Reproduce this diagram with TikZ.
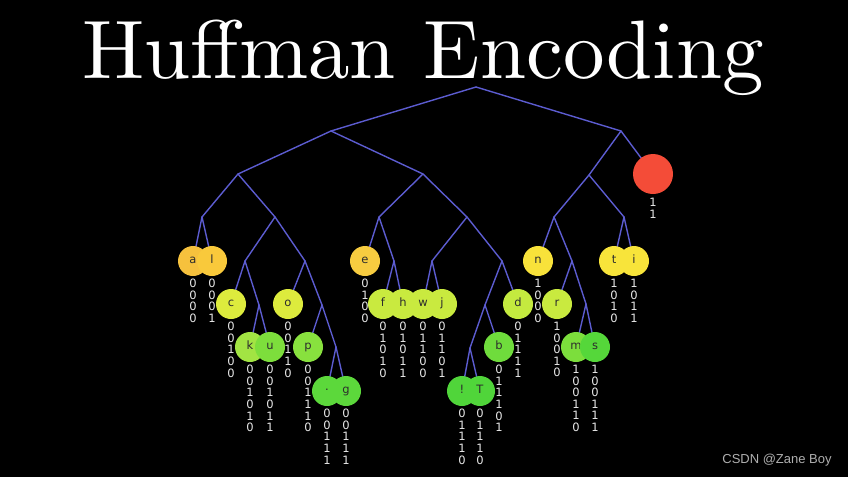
\documentclass[tikz,border=0pt]{standalone}
\usepackage{fontspec}
\newfontfamily\leaffont{DejaVu Sans}
\newfontfamily\wmfont{Liberation Sans}
\newfontfamily\titlefont{lmroman10-regular.otf}
\pgfdeclarelayer{bg}
\pgfdeclarelayer{edges}
\pgfsetlayers{bg,edges,main}
\definecolor{edgeblue}{RGB}{92,92,208}
\definecolor{leaftext}{RGB}{45,45,45}
\definecolor{codegray}{RGB}{232,232,232}
\definecolor{wmgray}{RGB}{175,175,175}
\definecolor{cA}{RGB}{246,193,61}
\definecolor{cL}{RGB}{249,201,59}
\definecolor{cE}{RGB}{247,204,64}
\definecolor{cN}{RGB}{248,226,58}
\definecolor{cT}{RGB}{248,228,58}
\definecolor{cC}{RGB}{221,235,61}
\definecolor{cF}{RGB}{201,234,63}
\definecolor{cD}{RGB}{196,234,63}
\definecolor{cK}{RGB}{162,228,67}
\definecolor{cU}{RGB}{125,222,60}
\definecolor{cP}{RGB}{136,225,62}
\definecolor{cB}{RGB}{111,220,60}
\definecolor{cM}{RGB}{124,222,60}
\definecolor{cS}{RGB}{85,215,58}
\definecolor{cG}{RGB}{92,216,59}
\definecolor{cX}{RGB}{80,213,58}
\definecolor{cRed}{RGB}{244,76,56}
\tikzset{
  leaf/.style={circle, minimum size=30pt, inner sep=0pt, text=leaftext,
    font=\leaffont\fontsize{11.5}{12}\selectfont, text height=0.75em, text depth=0.2em},
  codetxt/.style={anchor=north, inner sep=0pt, align=center, text=codegray,
    font=\leaffont\fontsize{11.5}{11.6}\selectfont},
  edge/.style={draw=edgeblue, line width=1.4pt, line cap=round, line join=round},
}
\begin{document}
\begin{tikzpicture}[x=1pt,y=-1pt]
\useasboundingbox (0,0) rectangle (848,477);
\begin{pgfonlayer}{bg}
  \fill[black] (0,0) rectangle (848,477);
\end{pgfonlayer}
% title
\node[anchor=base, text=white, inner sep=0pt, font=\titlefont\fontsize{83}{90}\selectfont] (title) at (423,78) {Huffman Encoding};
\node[anchor=base, text=wmgray, inner sep=0pt, font=\wmfont\fontsize{13}{15}\selectfont] (wm) at (777,463) {CSDN @Zane Boy};
% internal points
\coordinate (r0) at (476,87);
\coordinate (n0) at (331,131);
\coordinate (n1) at (621,131);
\coordinate (n00) at (238,174);
\coordinate (n01) at (423,174);
\coordinate (n10) at (589,175);
\coordinate (n000) at (202,217);
\coordinate (n001) at (275,217);
\coordinate (n010) at (379,217);
\coordinate (n011) at (467,217);
\coordinate (n100) at (554,217);
\coordinate (n101) at (624,217);
\coordinate (n0010) at (245,261);
\coordinate (n0011) at (305,261);
\coordinate (n0101) at (394,261);
\coordinate (n0110) at (432,261);
\coordinate (n0111) at (502,261);
\coordinate (n1001) at (572,261);
\coordinate (n00101) at (259,305);
\coordinate (n00111) at (322,305);
\coordinate (n01110) at (485,305);
\coordinate (n10011) at (586,304);
\coordinate (n001111) at (336,347);
\coordinate (n011100) at (470,348);
% red leaf
\node[circle, minimum size=40pt, inner sep=0pt, fill=cRed] (red) at (653,174) {};
\node[codetxt] (code-red) at (653,198) {1\\1};
% level 4 leaves
\node[leaf, fill=cA] (a) at (193,261) {a};
\node[leaf, fill=cL] (l) at (212,261) {l};
\node[leaf, fill=cE] (e) at (365,261) {e};
\node[leaf, fill=cN] (n) at (538,261) {n};
\node[leaf, fill=cT] (t) at (614,261) {t};
\node[leaf, fill=cT] (i) at (634,261) {i};
\node[codetxt] (code-a) at (193,279) {0\\0\\0\\0};
\node[codetxt] (code-l) at (212,279) {0\\0\\0\\1};
\node[codetxt] (code-e) at (365,279) {0\\1\\0\\0};
\node[codetxt] (code-n) at (538,279) {1\\0\\0\\0};
\node[codetxt] (code-t) at (614,279) {1\\0\\1\\0};
\node[codetxt] (code-i) at (634,279) {1\\0\\1\\1};
% level 5 leaves
\node[leaf, fill=cC] (c) at (231,304) {c};
\node[leaf, fill=cC] (o) at (288,304) {o};
\node[leaf, fill=cF] (f) at (383,304) {f};
\node[leaf, fill=cF] (h) at (403,304) {h};
\node[leaf, fill=cF] (w) at (423,304) {w};
\node[leaf, fill=cF] (j) at (442,304) {j};
\node[leaf, fill=cD] (d) at (518,304) {d};
\node[leaf, fill=cF] (r) at (557,304) {r};
\node[codetxt] (code-c) at (231,322) {0\\0\\1\\0\\0};
\node[codetxt] (code-o) at (288,322) {0\\0\\1\\1\\0};
\node[codetxt] (code-f) at (383,322) {0\\1\\0\\1\\0};
\node[codetxt] (code-h) at (403,322) {0\\1\\0\\1\\1};
\node[codetxt] (code-w) at (423,322) {0\\1\\1\\0\\0};
\node[codetxt] (code-j) at (442,322) {0\\1\\1\\0\\1};
\node[codetxt] (code-d) at (518,322) {0\\1\\1\\1\\1};
\node[codetxt] (code-r) at (557,322) {1\\0\\0\\1\\0};
% level 6 leaves
\node[leaf, fill=cK] (k) at (250,347) {k};
\node[leaf, fill=cU] (u) at (270,347) {u};
\node[leaf, fill=cP] (p) at (308,347) {p};
\node[leaf, fill=cB] (b) at (499,347) {b};
\node[leaf, fill=cM] (m) at (576,347) {m};
\node[leaf, fill=cS] (s) at (595,347) {s};
\node[codetxt] (code-k) at (250,365) {0\\0\\1\\0\\1\\0};
\node[codetxt] (code-u) at (270,365) {0\\0\\1\\0\\1\\1};
\node[codetxt] (code-p) at (308,365) {0\\0\\1\\1\\1\\0};
\node[codetxt] (code-b) at (499,365) {0\\1\\1\\1\\0\\1};
\node[codetxt] (code-m) at (576,365) {1\\0\\0\\1\\1\\0};
\node[codetxt] (code-s) at (595,365) {1\\0\\0\\1\\1\\1};
% level 7 leaves
\node[leaf, fill=cG] (dot) at (327,391) {\raisebox{0.25em}{.}};
\node[leaf, fill=cG] (g) at (346,391) {g};
\node[leaf, fill=cX] (excl) at (462,391) {!};
\node[leaf, fill=cX] (T) at (480,391) {T};
\node[codetxt] (code-dot) at (327,409) {0\\0\\1\\1\\1};
\node[codetxt] (code-g) at (346,409) {0\\0\\1\\1\\1};
\node[codetxt] (code-excl) at (462,409) {0\\1\\1\\1\\0};
\node[codetxt] (code-T) at (480,409) {0\\1\\1\\1\\0};
% edges
\begin{pgfonlayer}{edges}
\foreach \p/\c in {r0/n0, r0/n1, n0/n00, n0/n01, n1/n10, n1/red,
  n00/n000, n00/n001, n01/n010, n01/n011, n10/n100, n10/n101,
  n000/a, n000/l, n001/n0010, n001/n0011, n010/e, n010/n0101,
  n011/n0110, n011/n0111, n100/n, n100/n1001, n101/t, n101/i,
  n0010/c, n0010/n00101, n0011/o, n0011/n00111, n0101/f, n0101/h,
  n0110/w, n0110/j, n0111/n01110, n0111/d, n1001/r, n1001/n10011,
  n00101/k, n00101/u, n00111/p, n00111/n001111, n01110/n011100, n01110/b,
  n10011/m, n10011/s, n001111/dot, n001111/g, n011100/excl, n011100/T}
  \draw[edge] (\p.center) -- (\c.center);
\end{pgfonlayer}
\end{tikzpicture}
\end{document}
